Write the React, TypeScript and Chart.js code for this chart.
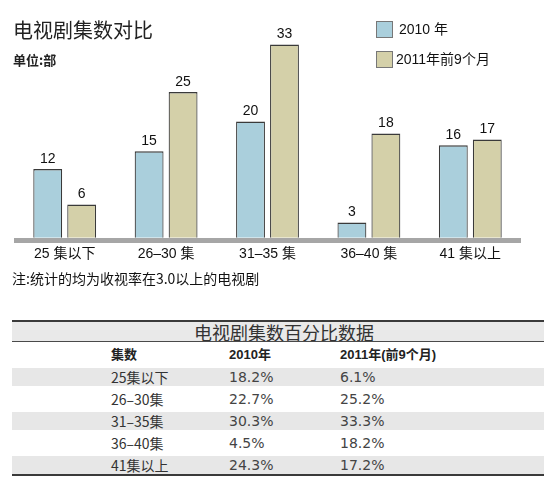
import React, { useEffect, useRef } from 'react';
import { Chart, registerables } from 'chart.js';

Chart.register(...registerables);

const categories = ['25 集以下', '26–30 集', '31–35 集', '36–40 集', '41 集以上'];
const series2010 = [12, 15, 20, 3, 16];
const series2011 = [6, 25, 33, 18, 17];
const seriesNames = ['2010 年', '2011年前9个月'];
const yMax = 40;

const chartTitle = '电视剧集数对比';
const unitText = '单位:部';
const noteText = '注:统计的均为收视率在3.0以上的电视剧';

const tableTitle = '电视剧集数百分比数据';
const tableHeaders = ['集数', '2010年', '2011年(前9个月)'];
const tableRows = ['25集以下', '26–30集', '31–35集', '36–40集', '41集以上'];
const pct2010 = ['18.2%', '22.7%', '30.3%', '4.5%', '24.3%'];
const pct2011 = ['6.1%', '25.2%', '33.3%', '18.2%', '17.2%'];

const barColors = ['#aacfdc', '#d4d0a9'];
const sansLatin = '"Liberation Sans", Arial, "Noto Sans CJK SC", sans-serif';
const cjk = '"Noto Sans CJK SC", "Liberation Sans", sans-serif';

const valueLabels = {
  id: 'valueLabels',
  afterDatasetsDraw(chart: any) {
    const ctx = chart.ctx;
    ctx.save();
    ctx.font = '14px ' + sansLatin;
    ctx.fillStyle = '#111';
    ctx.textAlign = 'center';
    ctx.textBaseline = 'middle';
    chart.data.datasets.forEach((ds: any, di: number) => {
      const meta = chart.getDatasetMeta(di);
      meta.data.forEach((el: any, i: number) => {
        ctx.fillText(String(ds.data[i]), el.x, el.y - 10);
      });
    });
    ctx.restore();
  },
};

const abs = (s: React.CSSProperties): React.CSSProperties => ({ position: 'absolute', whiteSpace: 'nowrap', ...s });

export default function App() {
  const canvasRef = useRef<HTMLCanvasElement | null>(null);

  useEffect(() => {
    const canvas = canvasRef.current;
    if (!canvas) return;
    const chart = new Chart(canvas, {
      type: 'bar',
      data: {
        labels: categories,
        datasets: [series2010, series2011].map((data, i) => ({
          label: seriesNames[i],
          data,
          backgroundColor: barColors[i],
          borderColor: '#3a3a3a',
          borderWidth: { top: 1.5, left: 1.2, right: 1.2, bottom: 0 },
          borderSkipped: 'bottom',
          categoryPercentage: 0.67,
          barPercentage: 0.85,
        })),
      },
      options: {
        responsive: false,
        animation: false,
        devicePixelRatio: 1,
        layout: { padding: { left: 14, right: 29, top: 3, bottom: 0 } },
        plugins: {
          legend: { display: false },
          title: { display: false },
          tooltip: { enabled: false },
        },
        scales: {
          x: {
            grid: { display: false, drawTicks: false },
            border: { display: false },
            ticks: {
              color: '#111',
              font: { size: 14, family: sansLatin },
              padding: 6,
              maxRotation: 0,
              autoSkip: false,
            },
          },
          y: {
            min: 0,
            max: yMax,
            ticks: { display: false },
            border: { display: false },
            grid: {
              drawTicks: false,
              lineWidth: 5,
              color: (c: any) => (c.tick && c.tick.value === 0 ? '#a6a6a6' : 'rgba(0,0,0,0)'),
            },
          },
        },
      },
      plugins: [valueLabels],
    });
    return () => chart.destroy();
  }, []);

  const rowTop = 366;
  const rowPitch = 22;

  return (
    <div style={abs({ left: 0, top: 0, width: 550, height: 481, background: '#fff', overflow: 'hidden' })}>
      <canvas ref={canvasRef} width={550} height={269} style={{ position: 'absolute', left: 0, top: 0, width: 550, height: 269 }} />

      <div style={abs({ left: 13, top: 19, fontFamily: cjk, fontSize: 20, lineHeight: '22px', color: '#222' })}>{chartTitle}</div>
      <div style={abs({ left: 13, top: 52, fontFamily: cjk, fontSize: 13, lineHeight: '16px', fontWeight: 700, color: '#222' })}>{unitText}</div>

      {seriesNames.map((name, i) => (
        <React.Fragment key={name}>
          <div style={abs({ left: 376, top: 21 + i * 30, width: 15, height: 15, background: barColors[i], border: '1px solid #777' })} />
          <div style={abs({ left: i === 0 ? 399 : 396, top: 21 + i * 30, fontFamily: sansLatin, fontSize: 14, lineHeight: '17px', color: '#111' })}>{name}</div>
        </React.Fragment>
      ))}

      <div style={abs({ left: 12, top: 269, fontFamily: cjk, fontSize: 14, lineHeight: '18px', color: '#111' })}>{noteText}</div>

      {/* table */}
      <div style={abs({ left: 12, top: 320, width: 532, height: 2, background: '#3a3a3a' })} />
      <div style={abs({ left: 12, top: 322, width: 532, height: 19, background: '#e9e9e9' })} />
      <div style={abs({ left: 24, top: 322, width: 520, textAlign: 'center', fontFamily: cjk, fontSize: 18, lineHeight: '20px', color: '#333' })}>{tableTitle}</div>
      <div style={abs({ left: 12, top: 341, width: 532, height: 1, background: '#4a4a4a' })} />

      {tableHeaders.map((h, j) => (
        <div key={h} style={abs({ left: [111, 229, 340][j], top: 346, fontFamily: sansLatin, fontSize: 13, lineHeight: '18px', fontWeight: 700, color: '#222' })}>{h}</div>
      ))}

      {tableRows.map((r, i) => {
        const top = rowTop + i * rowPitch;
        return (
          <React.Fragment key={r}>
            {i % 2 === 0 && <div style={abs({ left: 12, top: top + 2, width: 532, height: 18, background: '#e7e7e7' })} />}
            <div style={abs({ left: 111, top: top + 2, fontFamily: cjk, fontSize: 14, lineHeight: '18px', color: '#333' })}>{r}</div>
            <div style={abs({ left: 229, top: top + 2, fontFamily: '"DejaVu Sans", sans-serif', fontSize: 14, lineHeight: '18px', color: '#444' })}>{pct2010[i]}</div>
            <div style={abs({ left: 340, top: top + 2, fontFamily: '"DejaVu Sans", sans-serif', fontSize: 14, lineHeight: '18px', color: '#444' })}>{pct2011[i]}</div>
          </React.Fragment>
        );
      })}
      <div style={abs({ left: 12, top: 474, width: 532, height: 2, background: '#3a3a3a' })} />
    </div>
  );
}
